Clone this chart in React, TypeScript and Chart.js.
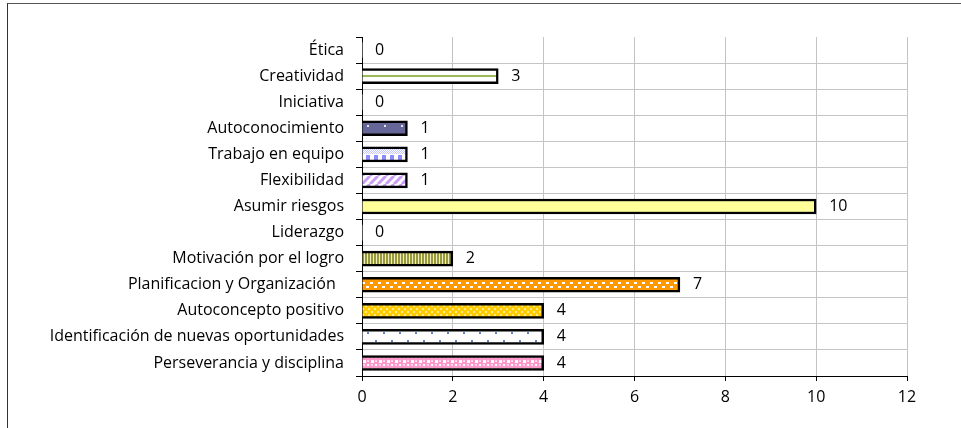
import React, { useEffect, useRef } from 'react';
import { Chart, registerables } from 'chart.js';

Chart.register(...registerables);

const categories = [
  'Ética',
  'Creatividad',
  'Iniciativa',
  'Autoconocimiento',
  'Trabajo en equipo',
  'Flexibilidad',
  'Asumir riesgos',
  'Liderazgo',
  'Motivación por el logro',
  'Planificacion y Organización  ',
  'Autoconcepto positivo',
  'Identificación de nuevas oportunidades',
  'Perseverancia y disciplina',
];
const values = [0, 3, 0, 1, 1, 1, 10, 0, 2, 7, 4, 4, 4];
const xMin = 0;
const xMax = 12;
const xStep = 2;

const FONT_FAMILY = '"Open Sans"';
const FONT_SIZE = 16;

type TileDraw = (g: CanvasRenderingContext2D) => void;
interface TileDef { w: number; h: number; draw: TileDraw }

const tiles: TileDef[] = [
  // Ética (no bar)
  { w: 4, h: 12, draw: (g) => { g.fillStyle = '#ffffff'; g.fillRect(0, 0, 4, 12); } },
  // Creatividad
  { w: 4, h: 12, draw: (g) => { g.fillStyle = '#ffffff'; g.fillRect(0, 0, 4, 12); g.fillStyle = '#9bbb59'; g.fillRect(0, 5, 4, 2); } },
  // Iniciativa
  { w: 4, h: 12, draw: (g) => { g.fillStyle = '#ffffff'; g.fillRect(0, 0, 4, 12); } },
  // Autoconocimiento
  { w: 17, h: 12, draw: (g) => { g.fillStyle = '#666699'; g.fillRect(0, 0, 17, 12); g.fillStyle = '#e4e4f4'; g.fillRect(5, 3, 2, 2); } },
  // Trabajo en equipo
  { w: 16, h: 12, draw: (g) => {
    g.fillStyle = '#ffffff'; g.fillRect(0, 0, 16, 12);
    g.fillStyle = '#c4c4ff'; g.fillRect(0, 0, 16, 6);
    g.fillStyle = '#ffffff';
    for (let x = 0; x < 16; x++) for (let y = 0; y < 6; y++) if ((x + y) % 2 === 0) g.fillRect(x, y, 1, 1);
    g.fillStyle = '#8c8cff'; g.fillRect(4, 7, 4, 5); g.fillRect(12, 7, 4, 5);
  } },
  // Flexibilidad
  { w: 8, h: 8, draw: (g) => {
    g.fillStyle = '#ffffff'; g.fillRect(0, 0, 8, 8);
    g.strokeStyle = '#c99cf5'; g.lineWidth = 3;
    for (const k of [-8, 0, 8]) { g.beginPath(); g.moveTo(k, 8); g.lineTo(k + 8, 0); g.stroke(); }
  } },
  // Asumir riesgos
  { w: 4, h: 12, draw: (g) => { g.fillStyle = '#ffff99'; g.fillRect(0, 0, 4, 12); } },
  // Liderazgo
  { w: 4, h: 12, draw: (g) => { g.fillStyle = '#ffffff'; g.fillRect(0, 0, 4, 12); } },
  // Motivación por el logro
  { w: 3, h: 4, draw: (g) => { g.fillStyle = '#eeeec4'; g.fillRect(0, 0, 3, 4); g.fillStyle = '#99993a'; g.fillRect(0, 0, 2, 4); } },
  // Planificacion y Organización
  { w: 8, h: 12, draw: (g) => {
    g.fillStyle = '#ff9900'; g.fillRect(0, 0, 8, 12);
    g.fillStyle = '#ffffff'; g.fillRect(0, 3, 3, 2); g.fillRect(4, 7, 3, 2);
  } },
  // Autoconcepto positivo
  { w: 6, h: 6, draw: (g) => {
    g.fillStyle = '#ffcc00'; g.fillRect(0, 0, 6, 6);
    g.fillStyle = '#ffeb8a'; g.fillRect(0, 0, 2, 2); g.fillRect(3, 3, 2, 2);
  } },
  // Identificación de nuevas oportunidades
  { w: 16, h: 12, draw: (g) => {
    g.fillStyle = '#ffffff'; g.fillRect(0, 0, 16, 12);
    g.fillStyle = '#5b86c8'; g.fillRect(5, 1, 2, 2); g.fillRect(13, 9, 2, 2);
  } },
  // Perseverancia y disciplina
  { w: 8, h: 8, draw: (g) => {
    g.fillStyle = '#ff99cc'; g.fillRect(0, 0, 8, 8);
    g.fillStyle = '#ffffff'; g.fillRect(1, 1, 3, 3); g.fillRect(5, 5, 2, 2);
    g.fillStyle = '#ffd6ea'; g.fillRect(5, 1, 2, 2); g.fillRect(1, 5, 2, 2);
  } },
];

const tileCanvases: (HTMLCanvasElement | null)[] = tiles.map(() => null);

function getTile(i: number): HTMLCanvasElement {
  let c = tileCanvases[i];
  if (!c) {
    const t = tiles[i];
    c = document.createElement('canvas');
    c.width = t.w;
    c.height = t.h;
    const g = c.getContext('2d')!;
    t.draw(g);
    tileCanvases[i] = c;
  }
  return c;
}

const valueLabels = {
  id: 'valueLabels',
  afterDatasetsDraw(chart: any) {
    const ctx = chart.ctx as CanvasRenderingContext2D;
    const meta = chart.getDatasetMeta(0);
    ctx.save();
    ctx.font = `${FONT_SIZE}px ${FONT_FAMILY}`;
    ctx.fillStyle = '#000';
    ctx.textAlign = 'left';
    ctx.textBaseline = 'middle';
    meta.data.forEach((el: any, i: number) => {
      ctx.fillText(String(values[i]), el.x + 13, el.y);
    });
    ctx.restore();
  },
};

export default function App() {
  const ref = useRef<HTMLCanvasElement>(null);

  useEffect(() => {
    if (!ref.current) return;
    const chart = new Chart(ref.current, {
      type: 'bar',
      data: {
        labels: categories,
        datasets: [
          {
            data: values,
            backgroundColor: (c: any) => {
              const i = c.dataIndex ?? 0;
              const chartObj = c.chart;
              const tile = getTile(i);
              const pat = chartObj.ctx.createPattern(tile, 'repeat');
              const ys = chartObj.scales?.y;
              const area = chartObj.chartArea;
              if (pat && ys && area) {
                const cy = ys.getPixelForValue(i);
                const ty = Math.round(cy) - tiles[i].h / 2;
                pat.setTransform(new DOMMatrix([1, 0, 0, 1, Math.round(area.left), ty]));
              }
              return pat || '#fff';
            },
            borderColor: '#000000',
            borderWidth: (c: any) => (values[c.dataIndex] === 0 ? 0 : 2.5),
            barThickness: 15,
          },
        ],
      },
      options: {
        indexAxis: 'y',
        responsive: false,
        animation: false,
        events: [],
        layout: { padding: { top: 37, right: 54, left: 0, bottom: 0 } },
        plugins: {
          legend: { display: false },
          tooltip: { enabled: false },
          title: { display: false },
        },
        scales: {
          x: {
            type: 'linear',
            min: xMin,
            max: xMax,
            ticks: {
              stepSize: xStep,
              color: '#000',
              padding: 7,
              font: { family: FONT_FAMILY, size: FONT_SIZE },
            },
            grid: { color: '#c4c4c4', tickColor: '#000', tickLength: 5, lineWidth: 1 },
            border: { color: '#000', width: 1 },
            afterFit: (s: any) => { s.height = 52; },
          },
          y: {
            type: 'category',
            ticks: {
              color: '#000',
              padding: 12,
              autoSkip: false,
              font: { family: FONT_FAMILY, size: FONT_SIZE },
            },
            grid: {
              offset: true,
              color: (c: any) => (c.index === 0 ? 'rgba(0,0,0,0)' : '#c4c4c4'),
              tickColor: '#000',
              tickLength: 6,
              lineWidth: 1,
            },
            border: { color: '#000', width: 1 },
            afterFit: (s: any) => { s.width = 362; },
          },
        },
      },
      plugins: [valueLabels],
    } as any);
    return () => chart.destroy();
  }, []);

  return (
    <div style={{ position: 'fixed', left: 0, top: 0, width: 961, height: 428, overflow: 'hidden', background: '#fff' }}>
      <div
        style={{
          position: 'absolute',
          left: 7,
          top: 3,
          width: 1200,
          height: 800,
          borderLeft: '1px solid #333',
          borderTop: '1px solid #555',
        }}
      />
      <canvas ref={ref} width={961} height={428} style={{ position: 'absolute', left: 0, top: 0 }} />
    </div>
  );
}
